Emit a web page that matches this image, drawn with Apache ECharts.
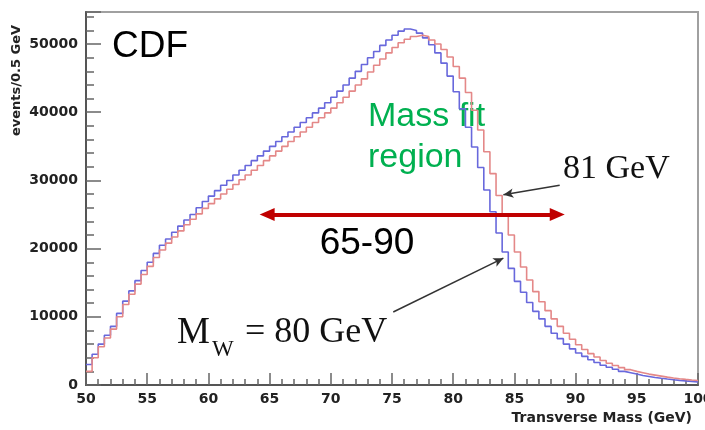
<!DOCTYPE html>
<html>
<head>
<meta charset="utf-8">
<script src="https://cdn.jsdelivr.net/npm/echarts@6/dist/echarts.min.js"></script>
<style>
  html, body { margin: 0; padding: 0; background: #ffffff; }
  #chart { width: 705px; height: 430px; }
</style>
</head>
<body>
<div id="chart"></div>
<script>
// Transverse mass histograms, 0.5 GeV bins from 50 to 100 GeV
const binStart = 50;
const binWidth = 0.5;

// Simulated M_W = 80 GeV (blue)
const eventsMw80 = [
  3000, 4500, 6000, 7300, 8600, 10500, 12300, 13800, 15300, 16800,
  18000, 19300, 20500, 21400, 22400, 23300, 24200, 25000, 26000, 26900,
  27700, 28500, 29300, 30000, 30800, 31500, 32200, 32900, 33600, 34300,
  35000, 35700, 36400, 37100, 37800, 38500, 39200, 39900, 40600, 41400,
  42200, 43100, 44000, 45000, 46000, 47000, 48000, 48900, 49800, 50600,
  51300, 51900, 52200, 52000, 51600, 50900, 49900, 48700, 47200, 45300,
  43000, 40500, 37800, 34900, 31900, 28600, 25400, 22300, 19500, 17100,
  15200, 13600, 12100, 10800, 9700, 8600, 7600, 6800, 6000, 5300,
  4700, 4200, 3700, 3300, 2900, 2600, 2300, 2000, 1800, 1600,
  1400, 1250, 1100, 980, 870, 770, 680, 600, 530, 460
];

// Simulated M_W = 81 GeV (red)
const eventsMw81 = [
  2000, 4000, 5600, 6900, 8200, 10000, 11800, 13300, 14800, 16200,
  17400, 18700, 19800, 20800, 21700, 22600, 23500, 24300, 25100, 25900,
  26600, 27300, 28000, 28700, 29400, 30100, 30800, 31500, 32200, 32900,
  33600, 34300, 35000, 35700, 36400, 37100, 37800, 38500, 39200, 39900,
  40600, 41400, 42200, 43100, 44000, 44900, 45900, 46900, 47800, 48700,
  49500, 50200, 50700, 51100, 51300, 51100, 50600, 50000, 49200, 48100,
  46700, 45000, 42900, 40300, 37400, 34200, 31000, 27800, 24800, 22000,
  19500, 17300, 15400, 13700, 12200, 10900, 9700, 8600, 7600, 6700,
  5900, 5200, 4600, 4100, 3600, 3200, 2850, 2550, 2250, 2000,
  1800, 1600, 1450, 1300, 1150, 1030, 920, 820, 730, 650
];

// Axis ranges and ticks
const xRange = [50, 100];
const xTickStep = 5;
const yRange = [0, 54700];
const yMajorStep = 10000;
const yMinorStep = 2000;

// Mass fit window arrow (centres of the arrow heads) and annotation anchors (GeV, events)
const fitWindow = [64.8, 88.5];
const fitArrowLevel = 25000;
const label81Arrow = [[88.7, 29300], [84.1, 27900]];
const label80Arrow = [[75.1, 10700], [84.1, 18600]];

// Turn bin contents into step outline points (left edge of each bin + closing edge)
function toSteps(values) {
  const pts = values.map((v, i) => [binStart + i * binWidth, v]);
  pts.push([binStart + values.length * binWidth, values[values.length - 1]]);
  return pts;
}

const axisFont = 'DejaVu Sans';
const chart = echarts.init(document.getElementById('chart'), null, { renderer: 'canvas' });

chart.setOption({
  animation: false,
  backgroundColor: '#ffffff',
  grid: {
    left: 86, right: 7, top: 12, bottom: 45,
    containLabel: false, outerBoundsMode: 'none',
    show: true, borderColor: '#a0a0a0', borderWidth: 2, backgroundColor: 'transparent'
  },
  xAxis: {
    type: 'value', min: xRange[0], max: xRange[1], interval: xTickStep,
    axisLine: { show: true, onZero: false, lineStyle: { color: '#555', width: 2 } },
    axisTick: { show: true, inside: true, length: 12, lineStyle: { color: '#666', width: 1.5 } },
    minorTick: { show: true, splitNumber: 5, length: 6, lineStyle: { color: '#666', width: 1.5 } },
    splitLine: { show: false },
    axisLabel: { show: true, margin: 7, color: '#222', fontFamily: axisFont, fontWeight: 'bold', fontSize: 14 }
  },
  yAxis: [
    {
      type: 'value', min: yRange[0], max: yRange[1], interval: yMajorStep,
      axisLine: { show: true, lineStyle: { color: '#555', width: 2 } },
      axisTick: { show: true, inside: true, length: 15, lineStyle: { color: '#666', width: 1.5 } },
      splitLine: { show: false },
      axisLabel: {
        show: true, margin: 8, color: '#222', fontFamily: axisFont, fontWeight: 'bold', fontSize: 14,
        formatter: v => (v % yMajorStep === 0 ? String(v) : '')
      }
    },
    {
      type: 'value', min: yRange[0], max: yRange[1], interval: yMinorStep, position: 'left',
      axisLine: { show: false },
      axisTick: { show: true, inside: true, length: 8, lineStyle: { color: '#666', width: 1.5 } },
      splitLine: { show: false },
      axisLabel: { show: false }
    }
  ],
  series: [
    {
      name: 'M_W = 80 GeV', type: 'line', step: 'end', data: toSteps(eventsMw80),
      showSymbol: false, silent: true,
      lineStyle: { color: '#6868dc', width: 1.6 },
      markLine: {
        silent: true, animation: false,
        symbol: ['none', 'arrow'], symbolSize: [7, 10],
        lineStyle: { color: '#333', width: 1.5, type: 'solid' },
        label: { show: false },
        data: [
          [{ coord: label81Arrow[0] }, { coord: label81Arrow[1] }],
          [{ coord: label80Arrow[0] }, { coord: label80Arrow[1] }]
        ]
      }
    },
    {
      name: 'M_W = 81 GeV', type: 'line', step: 'end', data: toSteps(eventsMw81),
      showSymbol: false, silent: true,
      lineStyle: { color: '#e48888', width: 1.6 },
      markLine: {
        silent: true, animation: false,
        symbol: ['triangle', 'triangle'], symbolSize: [13, 15],
        lineStyle: { color: '#c00000', width: 4, type: 'solid' },
        label: { show: false },
        data: [
          [{ coord: [fitWindow[0], fitArrowLevel] }, { coord: [fitWindow[1], fitArrowLevel] }]
        ]
      }
    }
  ],
  graphic: [
    { type: 'text', x: 17, y: 136, rotation: Math.PI / 2,
      style: { text: 'events/0.5 GeV', fill: '#222', font: 'bold 13px "DejaVu Sans"', align: 'left', verticalAlign: 'middle' } },
    { type: 'text', x: 692, y: 418,
      style: { text: 'Transverse Mass (GeV)', fill: '#222', font: 'bold 14px "DejaVu Sans"', align: 'right', verticalAlign: 'middle' } },
    { type: 'text', x: 112, y: 47,
      style: { text: 'CDF', fill: '#000', font: '37px "Liberation Sans"', align: 'left', verticalAlign: 'middle' } },
    { type: 'text', x: 368, y: 117,
      style: { text: 'Mass fit', fill: '#00b050', font: '34px "Liberation Sans"', align: 'left', verticalAlign: 'middle' } },
    { type: 'text', x: 368, y: 158,
      style: { text: 'region', fill: '#00b050', font: '34px "Liberation Sans"', align: 'left', verticalAlign: 'middle' } },
    { type: 'text', x: 367, y: 244,
      style: { text: '65-90', fill: '#000', font: '37px "Liberation Sans"', align: 'center', verticalAlign: 'middle' } },
    { type: 'text', x: 563, y: 169,
      style: { text: '81 GeV', fill: '#111', font: '34px "Liberation Serif"', align: 'left', verticalAlign: 'middle' } },
    { type: 'text', x: 177, y: 333,
      style: { text: 'M', fill: '#111', font: '37px "Liberation Serif"', align: 'left', verticalAlign: 'middle' } },
    { type: 'text', x: 212, y: 350,
      style: { text: 'W', fill: '#111', font: '23px "Liberation Serif"', align: 'left', verticalAlign: 'middle' } },
    { type: 'text', x: 245, y: 333,
      style: { text: '= 80 GeV', fill: '#111', font: '36px "Liberation Serif"', align: 'left', verticalAlign: 'middle' } }
  ]
});
</script>
</body>
</html>
